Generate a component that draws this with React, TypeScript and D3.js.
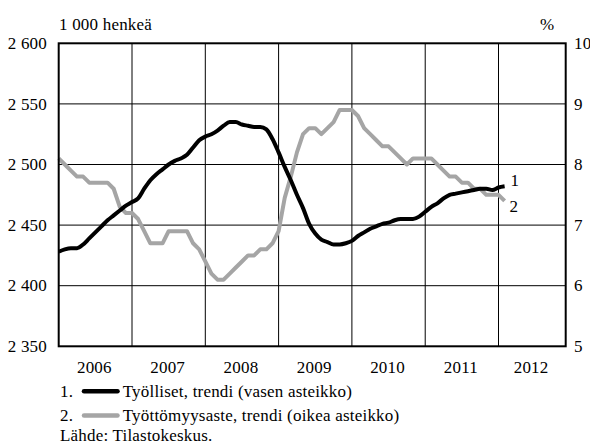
import React from "react";
import * as d3 from "d3";

// Monthly data, Jan 2006 .. Feb 2012 (month index 0 = Jan 2006)
const employment: number[] = [
  2428, 2430, 2431, 2431, 2434, 2439, 2444, 2449, 2454, 2458, 2462, 2466,
  2469, 2472, 2480, 2487, 2492, 2496, 2500, 2503, 2505, 2508, 2514, 2520,
  2523, 2525, 2528, 2532, 2535, 2535, 2533, 2532, 2531, 2531, 2529, 2521,
  2510, 2498, 2487, 2475, 2464, 2451, 2443, 2438, 2436, 2434, 2434, 2435,
  2437, 2441, 2444, 2447, 2449, 2451, 2452, 2454, 2455, 2455, 2455, 2457,
  2461, 2465, 2468, 2472, 2475, 2476, 2477, 2478, 2479, 2480, 2480, 2479,
  2481, 2482,
];
const unemployment: number[] = [
  8.1, 8.0, 7.9, 7.8, 7.8, 7.7, 7.7, 7.7, 7.7, 7.6, 7.3, 7.2,
  7.2, 7.1, 6.9, 6.7, 6.7, 6.7, 6.9, 6.9, 6.9, 6.9, 6.7, 6.6,
  6.4, 6.2, 6.1, 6.1, 6.2, 6.3, 6.4, 6.5, 6.5, 6.6, 6.6, 6.7,
  6.9, 7.45, 7.8, 8.2, 8.5, 8.6, 8.6, 8.5, 8.6, 8.7, 8.9, 8.9,
  8.9, 8.8, 8.6, 8.5, 8.4, 8.3, 8.3, 8.2, 8.1, 8.0, 8.1, 8.1,
  8.1, 8.1, 8.0, 7.9, 7.8, 7.8, 7.7, 7.7, 7.6, 7.6, 7.5, 7.5,
  7.5, 7.4,
];
const years: string[] = ["2006", "2007", "2008", "2009", "2010", "2011", "2012"];
const leftTicks: number[] = [2350, 2400, 2450, 2500, 2550, 2600];
const rightTicks: number[] = [5, 6, 7, 8, 9, 10];
const leftUnit = "1 000 henkeä";
const rightUnit = "%";
const legendLabels: string[] = [
  "Työlliset, trendi (vasen asteikko)",
  "Työttömyysaste, trendi (oikea asteikko)",
];
const source = "Lähde: Tilastokeskus.";

const W = 590;
const H = 446;
const L = 58.7;
const R = 565.7;
const T = 43.3;
const B = 346.3;
const BLACK = "#000";
const GRAY = "#a5a5a5";

const fi = d3.formatLocale({ thousands: " ", grouping: [3], decimal: ",", currency: ["", ""] });
const fmt = fi.format(",");

function Txt(props: { x: number; y: number; anchor?: string; dy?: string; children: React.ReactNode }) {
  return (
    <text
      x={props.x}
      y={props.y}
      dy={props.dy}
      textAnchor={props.anchor || "start"}
      style={{ fontFamily: "Liberation Serif", fontSize: "17px", letterSpacing: "0.2px" }}
    >
      {props.children}
    </text>
  );
}

export default function App() {
  const x = d3.scaleLinear().domain([0, 83]).range([L, R]);
  const yL = d3.scaleLinear().domain([2350, 2600]).range([B, T]);
  const yR = d3.scaleLinear().domain([5, 10]).range([B, T]);

  const lineL = d3
    .line<number>()
    .x((_, i) => x(i))
    .y((d) => yL(d))
    .curve(d3.curveMonotoneX);
  const lineR = d3
    .line<number>()
    .x((_, i) => x(i))
    .y((d) => yR(d))
    .curve(d3.curveLinear);

  const yearBounds = years.map((_, k) => [k * 12, Math.min(k * 12 + 12, 83)]);
  const lastI = employment.length - 1;

  return (
    <svg width={W} height={H} style={{ position: "fixed", left: 0, top: 0, background: "#fff" }}>
      {leftTicks.slice(1, -1).map((t) => (
        <line key={"h" + t} x1={L} x2={R} y1={yL(t)} y2={yL(t)} stroke="#000" strokeWidth={1} />
      ))}
      {yearBounds.slice(1).map(([s]) => (
        <line key={"v" + s} x1={x(s)} x2={x(s)} y1={T} y2={B} stroke="#000" strokeWidth={1} />
      ))}
      <path d={lineR(unemployment) || ""} fill="none" stroke={GRAY} strokeWidth={4} strokeLinejoin="round" />
      <path d={lineL(employment) || ""} fill="none" stroke={BLACK} strokeWidth={4} strokeLinejoin="round" />
      <rect x={L} y={T} width={R - L} height={B - T} fill="none" stroke="#000" strokeWidth={2} />
      {leftTicks.map((t) => (
        <Txt key={"l" + t} x={47} y={yL(t)} dy="0.34em" anchor="end">
          {fmt(t)}
        </Txt>
      ))}
      {rightTicks.map((t) => (
        <Txt key={"r" + t} x={574} y={yR(t)} dy="0.34em">
          {t}
        </Txt>
      ))}
      <Txt x={59} y={29.5}>{leftUnit}</Txt>
      <Txt x={540} y={29.5}>{rightUnit}</Txt>
      {yearBounds.map(([s, e], k) => (
        <Txt key={"y" + k} x={x((s + e) / 2) - 1} y={373} anchor="middle">
          {years[k]}
        </Txt>
      ))}
      <Txt x={x(lastI) + 6} y={186}>1</Txt>
      <Txt x={x(lastI) + 5} y={212}>2</Txt>
      {legendLabels.map((lab, i) => {
        const yy = 396.7 + i * 24.3;
        return (
          <g key={"lg" + i}>
            <Txt x={60} y={yy}>{i + 1}.</Txt>
            <line
              x1={84}
              x2={117.5}
              y1={yy - 5.5}
              y2={yy - 5.5}
              stroke={i === 0 ? BLACK : GRAY}
              strokeWidth={4.5}
              strokeLinecap="round"
            />
            <Txt x={122.7} y={yy}>{lab}</Txt>
          </g>
        );
      })}
      <Txt x={60} y={440.5}>{source}</Txt>
    </svg>
  );
}
